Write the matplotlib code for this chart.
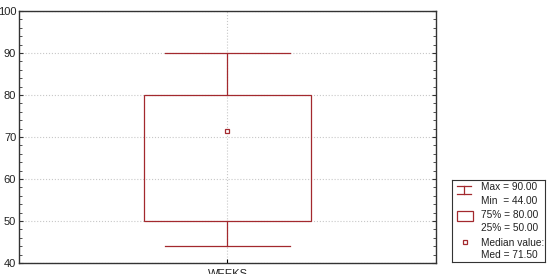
import matplotlib
matplotlib.use("Agg")
import matplotlib.pyplot as plt
from matplotlib.patches import Rectangle
from matplotlib.ticker import MultipleLocator

plt.rcParams['font.family'] = ['Liberation Sans', 'DejaVu Sans']

category = "WEEKS"
max_val = 90.0
min_val = 44.0
q75 = 80.0
q25 = 50.0
median = 71.5

color = '#a3292e'

fig = plt.figure(figsize=(5.47, 2.74), dpi=100)
ax = fig.add_axes([19 / 547, 11 / 274, (436 - 19) / 547, (263 - 11) / 274])

x = 0
box_w = 0.4
cap_w = 0.3
ax.add_patch(Rectangle((x - box_w / 2, q25), box_w, q75 - q25, fill=False,
                       edgecolor=color, lw=0.9, zorder=3))
ax.plot([x, x], [q75, max_val], color=color, lw=0.9, zorder=3)
ax.plot([x, x], [min_val, q25], color=color, lw=0.9, zorder=3)
ax.plot([x - cap_w / 2, x + cap_w / 2], [max_val, max_val], color=color, lw=0.9, zorder=3)
ax.plot([x - cap_w / 2, x + cap_w / 2], [min_val, min_val], color=color, lw=0.9, zorder=3)
ax.plot([x], [median], marker='s', ms=3, mfc='white', mec=color, mew=0.9, zorder=4)

ax.set_xlim(-0.5, 0.5)
ax.set_ylim(40, 100)
ax.set_xticks([x])
ax.set_xticklabels([category])
ax.yaxis.set_major_locator(MultipleLocator(10))
ax.yaxis.set_minor_locator(MultipleLocator(2))
ax.tick_params(axis='y', which='both', direction='in', left=True, right=True,
               labelsize=8, colors='#333333', labelcolor='#222222', pad=2)
ax.tick_params(axis='y', which='major', length=3)
ax.tick_params(axis='y', which='minor', length=2)
ax.tick_params(axis='x', direction='in', length=3, labelsize=8, pad=4,
               labelcolor='#222222')
ax.grid(True, which='major', linestyle=':', color='#c8c8c8', lw=0.8)
ax.set_axisbelow(True)
for s in ax.spines.values():
    s.set_color('#333333')
    s.set_linewidth(1.0)

# legend panel
lg = fig.add_axes([452 / 547, 1 - 262 / 274, (545 - 452) / 547, (262 - 180) / 274])
lg.set_xlim(0, 93)
lg.set_ylim(82, 0)
lg.set_xticks([])
lg.set_yticks([])
for s in lg.spines.values():
    s.set_color('#333333')
    s.set_linewidth(0.8)
fs = 7.3
# whisker icon
lg.plot([5, 19], [6, 6], color=color, lw=0.9)
lg.plot([5, 19], [14, 14], color=color, lw=0.9)
lg.plot([12, 12], [6, 14], color=color, lw=0.9)
lg.text(29, 7.5, f"Max = {max_val:.2f}", fontsize=fs, va='center', color='#222222')
lg.text(29, 20.5, f"Min  = {min_val:.2f}", fontsize=fs, va='center', color='#222222')
# box icon
lg.add_patch(Rectangle((5, 31), 16, 10, fill=False, edgecolor=color, lw=0.9))
lg.text(29, 35, f"75% = {q75:.2f}", fontsize=fs, va='center', color='#222222')
lg.text(29, 48, f"25% = {q25:.2f}", fontsize=fs, va='center', color='#222222')
lg.plot([12.5], [62], marker='s', ms=3, mfc='white', mec=color, mew=0.9)
lg.text(29, 62.5, "Median value:", fontsize=fs, va='center', color='#222222')
lg.text(29, 75.5, f"Med = {median:.2f}", fontsize=fs, va='center', color='#222222')

fig.savefig("out.png", dpi=100)
